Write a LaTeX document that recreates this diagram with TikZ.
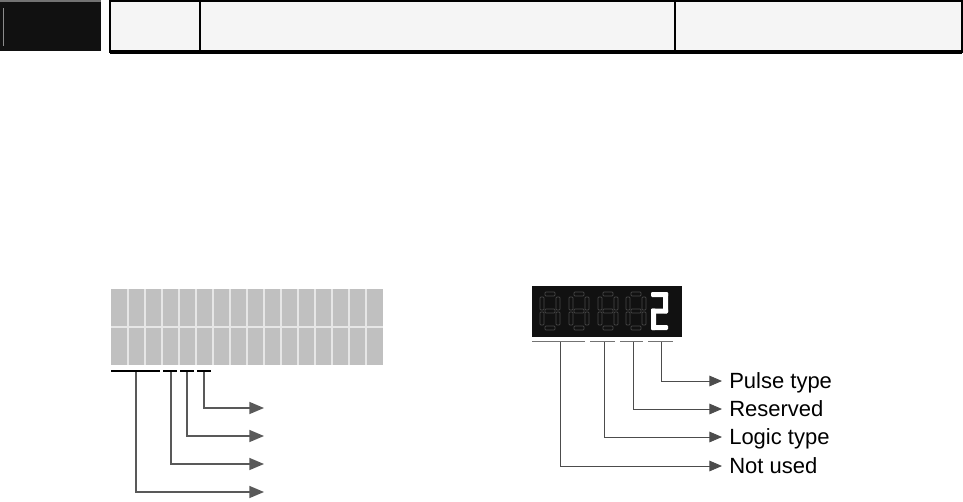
\documentclass[tikz,border=0pt]{standalone}
\usepackage{fontspec}
\setmainfont{Liberation Sans}
\usepackage{tikz}
\usetikzlibrary{arrows.meta,calc,positioning}
\definecolor{panelgray}{RGB}{192,192,192}
\definecolor{gridline}{RGB}{230,230,230}
\definecolor{tablefill}{RGB}{245,245,245}
\definecolor{ledblack}{RGB}{17,17,17}
\definecolor{ghostseg}{RGB}{72,72,72}
\tikzset{
  leadline/.style={black!65,line width=1.1pt},
  leadarrow/.style={leadline,-{Triangle[length=11pt,width=9pt]}},
  thinlead/.style={black!70,line width=0.75pt},
  thinarrow/.style={thinlead,-{Triangle[length=9.5pt,width=8pt]},shorten >=5.25pt},
  under/.style={black,line width=0.8pt},
  thinunder/.style={black!55,line width=0.7pt},
  ghost/.style={draw=ghostseg,line width=0.5pt,rounded corners=0.6pt},
  litseg/.style={fill=white,draw=none,rounded corners=0.8pt},
  fieldlab/.style={anchor=west,inner sep=0pt,text height=11.5pt,text depth=0pt,
                   font=\fontsize{16.5}{18}\selectfont},
}

\begin{document}
\begin{tikzpicture}[x=0.75pt,y=-0.75pt]
  \path[use as bounding box] (0,0) rectangle (963,502);

  % header strip
  \fill[ledblack] (0,0) rectangle (101,51);
  \draw[black!55,line width=0.8pt] (0,1) -- (101,1);
  \draw[black!45,line width=0.6pt] (3,8) -- (3,46);
  \filldraw[fill=tablefill,draw=black,line width=1.2pt] (110,1) rectangle (962,52);
  \draw[black,line width=2.4pt] (110,52) -- (962,52);
  \draw[black,line width=0.8pt] (200,1) -- (200,52);
  \draw[black,line width=1.2pt] (675,1) -- (675,52);

  % left panel
  \fill[panelgray] (111,289) rectangle (383,365);
  \foreach \k in {1,...,15}
    \draw[gridline,line width=0.9pt] ({111+17*\k},289) -- ({111+17*\k},365);
  \draw[gridline,line width=0.9pt] (111,327) -- (383,327);
  \foreach \a/\b in {111/160,163/177,180/194,197/211}
    \draw[under] (\a,371) -- (\b,371);

  \foreach \n/\xx/\yy in {1/204/408,2/187/436,3/171/464,4/136/492}{
    \coordinate (lb\n) at (\xx,372);
    \coordinate (le\n) at (264,\yy);
    \draw[leadarrow] (lb\n) |- (le\n);
  }

  % right panel: LED display
  \fill[ledblack] (532,286) rectangle (682,337);
  \foreach \dx in {540,569,598,626}{
    \begin{scope}[shift={(\dx,292)}]
      \draw[ghost] (5,0) rectangle (15,4);
      \draw[ghost] (16,5) rectangle (20,18);
      \draw[ghost] (16,20) rectangle (20,33);
      \draw[ghost] (5,34) rectangle (15,38);
      \draw[ghost] (0,20) rectangle (4,33);
      \draw[ghost] (0,5) rectangle (4,18);
      \draw[ghost] (5,17) rectangle (15,21);
    \end{scope}
  }
  \begin{scope}[shift={(651,292)}]
    \fill[litseg] (0,0) rectangle (17,5);
    \fill[litseg] (12,0) rectangle (17,21);
    \fill[litseg] (0,16.5) rectangle (17,21.5);
    \fill[litseg] (0,16.5) rectangle (5,38);
    \fill[litseg] (0,33) rectangle (17,38);
  \end{scope}
  \foreach \a/\b in {532/585,590/615,620/643,648/673}
    \draw[thinunder] (\a,341) -- (\b,341);

  \node[fieldlab] (pulse) at (729,381) {Pulse type};
  \node[fieldlab] (resv)  at (729,409) {Reserved};
  \node[fieldlab] (logic) at (729,437) {Logic type};
  \node[fieldlab] (unused) at (729,466) {Not used};

  \foreach \n/\xx/\tgt in {1/661/pulse,2/633/resv,3/604/logic,4/560/unused}{
    \coordinate (rb\n) at (\xx,342);
    \draw[thinarrow] (rb\n) |- (\tgt.west);
  }
\end{tikzpicture}
\end{document}
